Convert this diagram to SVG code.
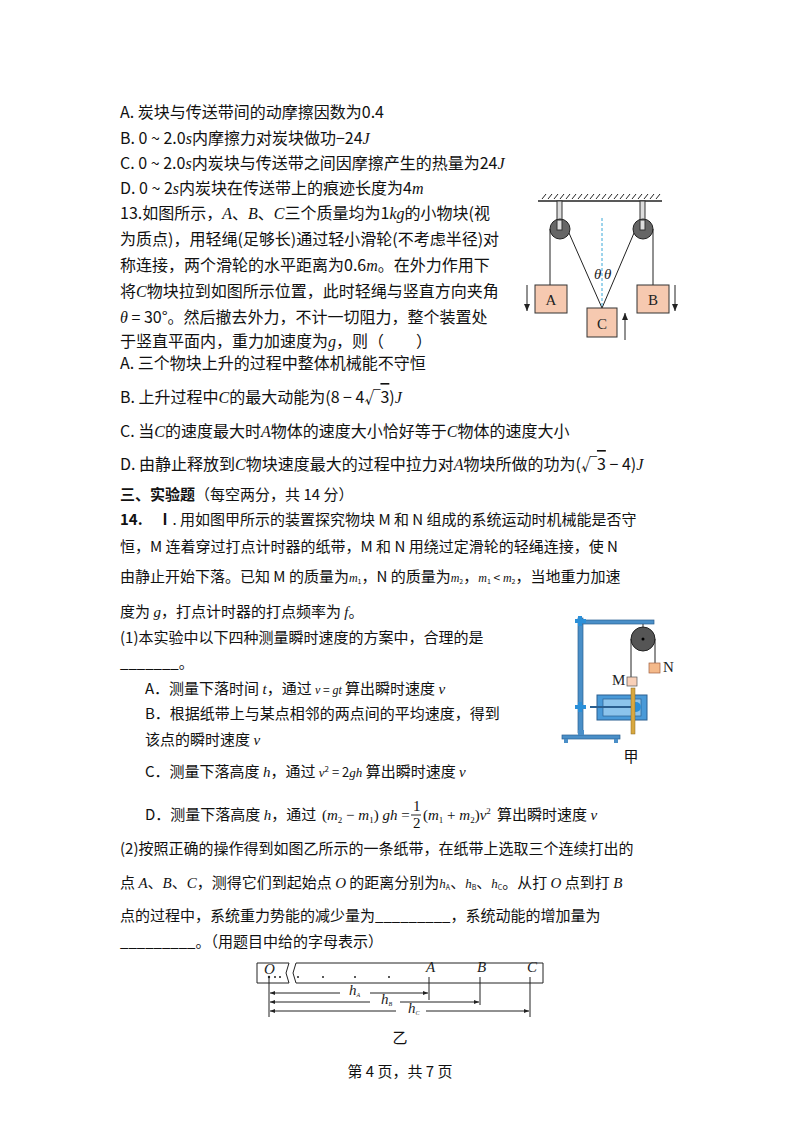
<svg xmlns="http://www.w3.org/2000/svg" width="800" height="1132" viewBox="0 0 800 1132">
<style>
.t{font-family:"Noto Sans CJK SC","Noto Sans",sans-serif;font-size:15px;fill:#111}
.u{font-size:16px}
.m{font-family:"Liberation Serif","Noto Sans CJK SC",serif;font-style:italic}
.s{font-family:"Liberation Serif","Noto Sans CJK SC",serif;font-size:15px;fill:#111}
.o{text-decoration:overline}
.b{font-weight:bold}
.ln{stroke:#222;stroke-width:1;fill:none}
.box{fill:#f6c9b0;stroke:#333;stroke-width:1}
.lab{font-family:"Liberation Serif",serif;font-size:15px;fill:#222}
</style>
<defs>
<marker id="ah" markerWidth="8" markerHeight="8" refX="7" refY="4" orient="auto" markerUnits="userSpaceOnUse"><path d="M0,1 L7,4 L0,7 Z" fill="#222"/></marker>
<marker id="as" markerWidth="6" markerHeight="6" refX="5" refY="3" orient="auto-start-reverse" markerUnits="userSpaceOnUse"><path d="M0,1 L5,3 L0,5 Z" fill="#222"/></marker>
</defs>
<g id="text">
<text class="t u" x="120" y="118">A. 炭块与传送带间的动摩擦因数为0.4</text>
<text class="t u" x="120" y="144">B. 0 ~ 2.0<tspan class="m">s</tspan>内摩擦力对炭块做功−24<tspan class="m">J</tspan></text>
<text class="t u" x="120" y="169">C. 0 ~ 2.0<tspan class="m">s</tspan>内炭块与传送带之间因摩擦产生的热量为24<tspan class="m">J</tspan></text>
<text class="t u" x="120" y="194">D. 0 ~ 2<tspan class="m">s</tspan>内炭块在传送带上的痕迹长度为4<tspan class="m">m</tspan></text>
<text class="t u" x="120" y="219">13.如图所示，<tspan class="m">A</tspan>、<tspan class="m">B</tspan>、<tspan class="m">C</tspan>三个质量均为1<tspan class="m">kg</tspan>的小物块(视</text>
<text class="t u" x="120" y="245">为质点)，用轻绳(足够长)通过轻小滑轮(不考虑半径)对</text>
<text class="t u" x="120" y="271">称连接，两个滑轮的水平距离为0.6<tspan class="m">m</tspan>。在外力作用下</text>
<text class="t u" x="120" y="297">将<tspan class="m">C</tspan>物块拉到如图所示位置，此时轻绳与竖直方向夹角</text>
<text class="t u" x="120" y="323"><tspan class="m">θ</tspan> = 30°。然后撤去外力，不计一切阻力，整个装置处</text>
<text class="t u" x="120" y="347">于竖直平面内，重力加速度为<tspan class="m">g</tspan>，则（　　）</text>
<text class="t u" x="120" y="369">A. 三个物块上升的过程中整体机械能不守恒</text>
<text class="t u" x="120" y="403">B. 上升过程中<tspan class="m">C</tspan>的最大动能为(8 − 4√<tspan class="o">3</tspan>)<tspan class="m">J</tspan></text>
<text class="t u" x="120" y="437">C. 当<tspan class="m">C</tspan>的速度最大时<tspan class="m">A</tspan>物体的速度大小恰好等于<tspan class="m">C</tspan>物体的速度大小</text>
<text class="t u" x="120" y="470">D. 由静止释放到<tspan class="m">C</tspan>物块速度最大的过程中拉力对<tspan class="m">A</tspan>物块所做的功为(√<tspan class="o">3</tspan> − 4)<tspan class="m">J</tspan></text>
<text class="t" x="120" y="500"><tspan class="b">三、实验题</tspan>（每空两分，共 14 分）</text>
<text class="t" x="120" y="525"><tspan class="b">14.　Ⅰ</tspan>. 用如图甲所示的装置探究物块 M 和 N 组成的系统运动时机械能是否守</text>
<text class="t" x="120" y="552">恒，M 连着穿过打点计时器的纸带，M 和 N 用绕过定滑轮的轻绳连接，使 N</text>
<text class="t" x="120" y="582">由静止开始下落。已知 M 的质量为<tspan class="m" font-size="12">m</tspan><tspan font-size="7" dy="2">1</tspan><tspan dy="-2">，N 的质量为</tspan><tspan class="m" font-size="12">m</tspan><tspan font-size="7" dy="2">2</tspan><tspan dy="-2">，</tspan><tspan class="m" font-size="12">m</tspan><tspan font-size="7" dy="2">1</tspan><tspan font-size="12" dy="-2"> &lt; </tspan><tspan class="m" font-size="12">m</tspan><tspan font-size="7" dy="2">2</tspan><tspan dy="-2">，当地重力加速</tspan></text>
<text class="t" x="120" y="617">度为 <tspan class="m">g</tspan>，打点计时器的打点频率为 <tspan class="m">f</tspan>。</text>
<text class="t" x="120" y="643">(1)本实验中以下四种测量瞬时速度的方案中，合理的是</text>
<text class="t" x="120" y="668">_______。</text>
<text class="t" x="145" y="694">A．测量下落时间 <tspan class="m">t</tspan>，通过 <tspan class="m" font-size="12">v</tspan><tspan font-size="12"> = </tspan><tspan class="m" font-size="12">gt</tspan> 算出瞬时速度 <tspan class="m">v</tspan></text>
<text class="t" x="145" y="719">B．根据纸带上与某点相邻的两点间的平均速度，得到</text>
<text class="t" x="145" y="745">该点的瞬时速度 <tspan class="m">v</tspan></text>
<text class="t" x="145" y="777">C．测量下落高度 <tspan class="m">h</tspan>，通过 <tspan class="m" font-size="13">v</tspan><tspan font-size="8" dy="-5">2</tspan><tspan font-size="13" dy="5"> = 2</tspan><tspan class="m" font-size="13">gh</tspan> 算出瞬时速度 <tspan class="m">v</tspan></text>
<text class="t" x="145" y="820">D．测量下落高度 <tspan class="m">h</tspan>，通过</text>
<text class="s" x="322" y="820">(<tspan class="m">m</tspan><tspan font-size="9" dy="3">2</tspan><tspan dy="-3"> − </tspan><tspan class="m">m</tspan><tspan font-size="9" dy="3">1</tspan><tspan dy="-3">)</tspan><tspan class="m"> gh</tspan> =</text>
<text class="s" x="413" y="811" font-size="13">1</text>
<line class="ln" x1="411" y1="815" x2="421" y2="815"/>
<text class="s" x="413" y="828" font-size="13">2</text>
<text class="s" x="423" y="820">(<tspan class="m">m</tspan><tspan font-size="9" dy="3">1</tspan><tspan dy="-3"> + </tspan><tspan class="m">m</tspan><tspan font-size="9" dy="3">2</tspan><tspan dy="-3">)</tspan><tspan class="m">v</tspan><tspan font-size="9" dy="-6">2</tspan></text>
<text class="t" x="497" y="820">算出瞬时速度 <tspan class="m">v</tspan></text>
<text class="t" x="120" y="854">(2)按照正确的操作得到如图乙所示的一条纸带，在纸带上选取三个连续打出的</text>
<text class="t" x="120" y="888">点 <tspan class="m">A</tspan>、<tspan class="m">B</tspan>、<tspan class="m">C</tspan>，测得它们到起始点 <tspan class="m">O</tspan> 的距离分别为<tspan class="m" font-size="13">h</tspan><tspan font-size="7" dy="2">A</tspan><tspan dy="-2">、</tspan><tspan class="m" font-size="13">h</tspan><tspan font-size="7" dy="2">B</tspan><tspan dy="-2">、</tspan><tspan class="m" font-size="13">h</tspan><tspan font-size="7" dy="2">C</tspan><tspan dy="-2">。从打 </tspan><tspan class="m">O</tspan> 点到打 <tspan class="m">B</tspan></text>
<text class="t" x="120" y="921">点的过程中，系统重力势能的减少量为_________，系统动能的增加量为</text>
<text class="t" x="120" y="947">_________。（用题目中给的字母表示）</text>
<text class="t" x="400" y="1077" text-anchor="middle" font-size="13">第 4 页，共 7 页</text>
</g>
<g id="fig13">
<line x1="538" y1="201" x2="662" y2="201" stroke="#222" stroke-width="1.5"/>
<path d="M542,199 l4,-5 M548,199 l4,-5 M554,199 l4,-5 M560,199 l4,-5 M566,199 l4,-5 M572,199 l4,-5 M578,199 l4,-5 M584,199 l4,-5 M590,199 l4,-5 M596,199 l4,-5 M602,199 l4,-5 M608,199 l4,-5 M614,199 l4,-5 M620,199 l4,-5 M626,199 l4,-5 M632,199 l4,-5 M638,199 l4,-5 M644,199 l4,-5 M650,199 l4,-5 M656,199 l4,-5" stroke="#222" stroke-width="1"/>
<rect x="557" y="201" width="5" height="27" fill="#ddd" stroke="#333"/>
<rect x="640" y="201" width="5" height="27" fill="#ddd" stroke="#333"/>
<circle cx="560" cy="229" r="10" fill="#666" stroke="#222"/>
<circle cx="643" cy="229" r="10" fill="#666" stroke="#222"/>
<rect x="557" y="220" width="5" height="10" fill="#ddd" stroke="#333"/>
<rect x="640" y="220" width="5" height="10" fill="#ddd" stroke="#333"/>
<line class="ln" x1="550" y1="229" x2="550" y2="285"/>
<line class="ln" x1="653" y1="229" x2="653" y2="285"/>
<line class="ln" x1="569" y1="233" x2="602" y2="308"/>
<line class="ln" x1="634" y1="233" x2="602" y2="308"/>
<line x1="602" y1="218" x2="602" y2="308" stroke="#3aa8d8" stroke-width="1" stroke-dasharray="3,2"/>
<rect class="box" x="535" y="285" width="32" height="28"/>
<rect class="box" x="637" y="285" width="32" height="28"/>
<rect class="box" x="587" y="308" width="30" height="29"/>
<text class="lab" x="551" y="305" text-anchor="middle">A</text>
<text class="lab" x="653" y="305" text-anchor="middle">B</text>
<text class="lab" x="602" y="329" text-anchor="middle">C</text>
<text class="lab" x="594" y="279" font-style="italic" font-size="13">θ</text>
<text class="lab" x="604" y="279" font-style="italic" font-size="13">θ</text>
<line class="ln" x1="527" y1="285" x2="527" y2="311" marker-end="url(#ah)"/>
<line class="ln" x1="675" y1="285" x2="675" y2="311" marker-end="url(#ah)"/>
<line class="ln" x1="625" y1="340" x2="625" y2="313" marker-end="url(#ah)"/>
</g>
<g id="fig14a">
<rect x="578" y="618" width="5" height="115" fill="#4a8fc8" stroke="#2a5f90" stroke-width="0.7"/>
<rect x="580" y="620" width="74" height="4" fill="#4a8fc8" stroke="#2a5f90" stroke-width="0.7"/>
<path d="M575,621 h11 M580,616 v10" stroke="#2a8fd8" stroke-width="4"/>
<path d="M575,707 h11 M580,702 v10" stroke="#2a8fd8" stroke-width="4"/>
<rect x="562" y="735" width="58" height="4" fill="#4a8fc8" stroke="#2a5f90" stroke-width="0.7"/>
<rect x="564" y="739" width="4" height="4" fill="#4a8fc8"/><rect x="614" y="739" width="4" height="4" fill="#4a8fc8"/>
<rect x="578" y="730" width="6" height="5" fill="#4a8fc8"/>
<line x1="643" y1="624" x2="643" y2="628" stroke="#333"/>
<circle cx="643" cy="639" r="12" fill="#555" stroke="#222"/>
<circle cx="643" cy="639" r="1.5" fill="#000"/>
<line class="ln" x1="631" y1="639" x2="631" y2="677" stroke-width="0.7"/>
<line class="ln" x1="655" y1="639" x2="655" y2="663" stroke-width="0.7"/>
<rect x="649" y="663" width="11" height="10" fill="#f4b98a" stroke="#a06040" stroke-width="0.7"/>
<text class="lab" x="663" y="672" font-size="11">N</text>
<rect x="627" y="677" width="10" height="9" fill="#f8d0b8" stroke="#555" stroke-width="0.7"/>
<text class="lab" x="612" y="685" font-size="11">M</text>
<rect x="597" y="695" width="50" height="25" fill="#4a9ad8" stroke="#2a5f90"/>
<rect x="603" y="699" width="38" height="17" fill="#8cc4ec" stroke="#2a5f90" stroke-width="0.7"/>
<line x1="590" y1="707" x2="632" y2="707" stroke="#2a5f90" stroke-width="2"/>
<circle cx="636" cy="707" r="5" fill="#2a8fd8"/>
<rect x="631" y="688" width="4" height="46" fill="#d8a840" stroke="#8a6a20" stroke-width="0.5"/>
<text class="t" x="631" y="762" font-size="11" fill="#666" text-anchor="middle">甲</text>
</g>
<g id="fig14b">
<path d="M257,963 H289 L286,973 L289,983 H257 Z" fill="none" stroke="#222"/>
<path d="M296,963 H543 V983 H296 L293,973 Z" fill="none" stroke="#222"/>
<text class="lab" x="264" y="974" font-size="11" font-style="italic">O</text>
<text class="lab" x="426" y="972" font-size="10" font-style="italic">A</text>
<text class="lab" x="477" y="972" font-size="10" font-style="italic">B</text>
<text class="lab" x="527" y="972" font-size="10" font-style="italic">C</text>
<g fill="#222"><circle cx="269" cy="977" r="1.2"/><circle cx="275" cy="977" r="1"/><circle cx="280" cy="977" r="1"/><circle cx="298" cy="977" r="1"/><circle cx="323" cy="977" r="1"/><circle cx="355" cy="977" r="1"/><circle cx="389" cy="977" r="1"/></g>
<line class="ln" x1="269" y1="977" x2="269" y2="1017"/>
<line class="ln" x1="429" y1="977" x2="429" y2="1000" stroke-width="1.5"/>
<line class="ln" x1="480" y1="977" x2="480" y2="1005" stroke-width="1.5"/>
<line class="ln" x1="530" y1="977" x2="530" y2="1017"/>
<line class="ln" x1="270" y1="993" x2="428" y2="993" marker-start="url(#as)" marker-end="url(#as)"/>
<line class="ln" x1="270" y1="1002" x2="479" y2="1002" marker-start="url(#as)" marker-end="url(#as)"/>
<line class="ln" x1="270" y1="1011" x2="529" y2="1011" marker-start="url(#as)" marker-end="url(#as)"/>
<rect x="340" y="986" width="30" height="12" fill="#fff"/><text class="lab" x="349" y="995" font-size="10" font-style="italic">h<tspan font-size="6" dy="2">A</tspan></text>
<rect x="370" y="995" width="30" height="12" fill="#fff"/><text class="lab" x="381" y="1004" font-size="10" font-style="italic">h<tspan font-size="6" dy="2">B</tspan></text>
<rect x="396" y="1004" width="30" height="12" fill="#fff"/><text class="lab" x="408" y="1013" font-size="10" font-style="italic">h<tspan font-size="6" dy="2">C</tspan></text>
<text class="t" x="400" y="1043" font-size="11" fill="#444" text-anchor="middle">乙</text>
</g>
</svg>
